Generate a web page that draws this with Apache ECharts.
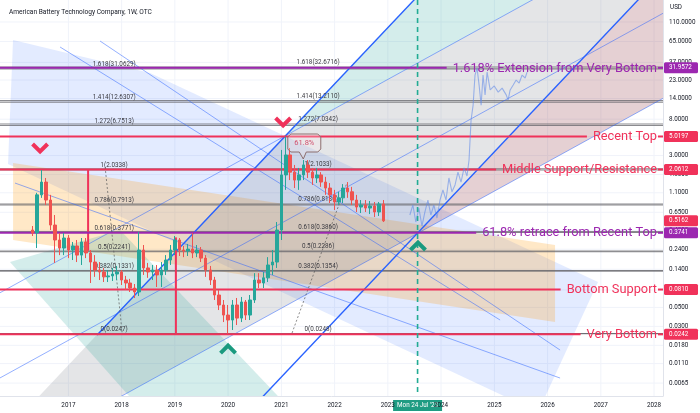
<!DOCTYPE html>
<html>
<head>
<meta charset="utf-8">
<script src="https://cdn.jsdelivr.net/npm/echarts@6/dist/echarts.min.js"></script>
<style>
html,body{margin:0;padding:0;background:#fff;}
#chart{width:700px;height:413px;}
</style>
</head>
<body>
<div id="chart"></div>
<script>
// ================= DATA =================
const chartTitle = 'American Battery Technology Company, 1W, OTC';
const currencyLabel = 'USD';

const candleMonths = ['2016-05','2016-06','2016-07','2016-08','2016-09','2016-10','2016-11','2016-12',
'2017-01','2017-02','2017-03','2017-04','2017-05','2017-06','2017-07','2017-08','2017-09','2017-10','2017-11','2017-12',
'2018-01','2018-02','2018-03','2018-04','2018-05','2018-06','2018-07','2018-08','2018-09','2018-10','2018-11','2018-12',
'2019-01','2019-02','2019-03','2019-04','2019-05','2019-06','2019-07','2019-08','2019-09','2019-10','2019-11','2019-12',
'2020-01','2020-02','2020-03','2020-04','2020-05','2020-06','2020-07','2020-08','2020-09','2020-10','2020-11','2020-12',
'2021-01','2021-02','2021-03','2021-04','2021-05','2021-06','2021-07','2021-08','2021-09','2021-10','2021-11','2021-12',
'2022-01','2022-02','2022-03','2022-04','2022-05','2022-06','2022-07','2022-08','2022-09','2022-10','2022-11','2022-12'];

// [open, close, low, high]
const ohlc = [
[0.403,0.372,0.343,0.449],[0.372,1.04,0.248,1.10],[1.04,1.47,0.959,2.03],[1.47,0.905,0.791,1.64],
[0.905,0.461,0.403,1.04],[0.461,0.308,0.166,0.604],[0.308,0.248,0.205,0.372],[0.248,0.325,0.205,0.372],
[0.325,0.235,0.189,0.352],[0.235,0.262,0.1795,0.292],[0.262,0.205,0.170,0.308],[0.205,0.292,0.157,0.325],
[0.292,0.217,0.189,0.325],[0.217,0.170,0.0966,0.235],[0.170,0.137,0.114,0.205],[0.137,0.130,0.1047,0.170],
[0.130,0.114,0.0992,0.145],[0.114,0.117,0.0992,0.137],[0.117,0.123,0.102,0.145],[0.123,0.130,0.1047,0.153],
[0.130,0.1047,0.0915,0.137],[0.1047,0.0966,0.080,0.117],[0.0966,0.0844,0.0758,0.108],[0.0844,0.0758,0.0645,0.094],
[0.0758,0.235,0.068,0.382],[0.235,0.145,0.120,0.269],[0.145,0.130,0.111,0.166],[0.130,0.137,0.1047,0.157],
[0.137,0.120,0.0867,0.157],[0.120,0.137,0.0867,0.170],[0.137,0.1795,0.120,0.205],[0.1795,0.235,0.157,0.269],
[0.235,0.308,0.205,0.343],[0.308,0.235,0.200,0.325],[0.235,0.229,0.194,0.262],[0.229,0.241,0.200,0.277],
[0.241,0.217,0.189,0.372],[0.217,0.235,0.194,0.269],[0.235,0.189,0.170,0.255],[0.189,0.137,0.114,0.205],
[0.137,0.1047,0.0915,0.153],[0.1047,0.0699,0.0611,0.114],[0.0699,0.0534,0.0466,0.080],[0.0534,0.0407,0.0337,0.0611],
[0.0407,0.0356,0.0247,0.0534],[0.0356,0.0534,0.0272,0.0611],[0.0534,0.0375,0.0311,0.0645],[0.0375,0.0579,0.0337,0.0663],
[0.0579,0.0407,0.0356,0.0611],[0.0407,0.0611,0.0356,0.0699],[0.0611,0.1047,0.0564,0.126],[0.1047,0.0966,0.0844,0.126],
[0.0966,0.111,0.0844,0.130],[0.111,0.157,0.0992,0.194],[0.157,0.170,0.120,0.235],[0.170,0.403,0.145,0.500],
[0.403,1.78,0.308,3.49],[1.78,3.05,1.19,5.0197],[3.05,1.92,1.55,3.68],[1.92,1.55,1.25,2.33],
[1.55,1.78,1.19,2.15],[1.78,2.33,1.55,2.66],[2.33,1.92,1.64,2.66],[1.92,1.64,1.36,2.15],
[1.64,1.78,1.43,2.15],[1.78,1.47,1.29,1.92],[1.47,1.25,1.04,1.69],[1.25,1.04,0.835,1.43],
[1.04,0.858,0.691,1.19],[0.858,0.959,0.791,1.13],[0.959,1.25,0.835,1.39],[1.25,1.13,0.959,1.47],
[1.13,0.905,0.791,1.29],[0.905,0.749,0.655,1.04],[0.749,0.791,0.637,0.905],[0.791,0.729,0.655,0.905],
[0.729,0.770,0.620,0.881],[0.770,0.655,0.572,0.858],[0.655,0.813,0.588,0.858],[0.813,0.5162,0.500,0.905]];

// projected path (light blue) after the marker date
const projectionDates = ['2023-06-01','2023-06-22','2023-07-12','2023-08-02','2023-08-23','2023-09-12','2023-10-03','2023-10-23','2023-11-13','2023-12-04','2023-12-25',
'2024-01-14','2024-02-04','2024-02-24','2024-03-16','2024-04-06','2024-04-26','2024-05-17','2024-06-07','2024-06-27','2024-07-11','2024-07-25','2024-08-08','2024-08-21','2024-09-04','2024-09-18','2024-10-02','2024-10-15','2024-10-29','2024-11-12','2024-12-03','2024-12-31',
'2025-01-27','2025-02-23','2025-03-23','2025-04-05','2025-04-19','2025-05-10','2025-05-30','2025-06-20','2025-07-10','2025-07-31','2025-08-13'];
const projectionPrices = [0.604,0.791,0.500,0.729,0.449,0.655,0.905,0.604,0.791,0.557,0.905,
1.19,0.905,1.64,1.13,1.36,1.92,1.47,2.15,1.73,2.66,7.83,11.7,26.3,31.8,20.1,11.7,26.3,15.4,28.5,17.6,19.6,
16.6,18.5,15.4,13.4,17.6,20.1,23.0,21.2,26.3,24.3,28.5];

// axis ticks
const yTickValues = [110,65,37,23,14,8,5,3,1.8,1.1,0.65,0.4,0.24,0.14,0.08,0.05,0.03,0.018,0.011,0.0065];
const yTickLabels = ['110.0000','65.0000','37.0000','23.0000','14.0000','8.0000','5.0000','3.0000','1.8000','1.1000','0.6500','0.4000','0.2400','0.1400','0.0800','0.0500','0.0300','0.0180','0.0110','0.0065'];
const xTickYears = [2017,2018,2019,2020,2021,2022,2023,2024,2025,2026,2027,2028];
const xTickLabels = ['2017','2018','2019','2020','2021','2022','2023','2024','2025','2026','2027','2028'];

// Fibonacci retracements
const fibRatios = ['0','0.382','0.5','0.618','0.786','1','1.272','1.414','1.618'];
const fibLeftPrices  = [0.0247,0.1331,0.2241,0.3771,0.7913,2.0338,6.7513,12.6307,31.0629];
const fibRightPrices = [0.0248,0.1354,0.2286,0.3860,0.8136,2.1033,7.0342,13.2110,32.6716];
const fibLeftLabelYear = 2017.86;
const fibRightLabelYear = 2021.69;

// annotated horizontal levels
const levelPrices = [31.9572,5.0197,2.0612,0.3741,0.0810,0.0242];
const levelTexts = ['1.618% Extension from Very Bottom','Recent Top','Middle Support/Resistance','61.8% retrace from Recent Top','Bottom Support','Very Bottom'];
const levelGroup = ['purple','red','red','purple','red','red'];

// price tags on the right scale
const tagPrices = [31.9572,5.0197,2.0612,0.5162,0.3741,0.0810,0.0242];
const tagLabels = ['31.9572','5.0197','2.0612','0.5162','0.3741','0.0810','0.0242'];
const tagGroup = ['purple','red','red','red','purple','red','red'];

// vertical marker
const markerDate = '2023-07-24';
const markerLabel = "Mon 24 Jul '23";

// drawings: [decimal year, price]
const blueZone   = [[2015.962,67.6],[2018.534,27.8],[2026.947,0.0992],[2025.821,0.00298],[2015.868,2.39]];
const orangeZone = [[2015.962,2.45],[2026.140,0.269],[2026.140,0.0337],[2015.962,0.308]];
const tealTopZone = [[2021.032,4.95],[2023.849,341],[2026.393,341]];
const greyBandZone = [[2021.032,4.95],[2026.393,341],[2028.863,341],[2028.863,24.3],[2017.182,0.0024],[2016.030,0.0024]];
const tealBottomZone = [[2015.905,0.170],[2017.971,0.403],[2021.257,0.00282],[2018.440,0.00282]];
const pinkZone   = [[2023.567,0.372],[2028.054,341],[2028.863,341],[2028.863,24.3]];

const steepUpperLine = [[2017.539,0.02375],[2023.847,341]];
const steepLowerLine = [[2020.236,0.0024],[2028.054,341]];
const bandLineA = [[2015.717,0.0743],[2026.393,341]];
const bandLineMid = [[2015.717,0.00747],[2028.863,241]];
const bandLineB = [[2017.182,0.0024],[2028.863,24.3]];
const descLine1 = [[2015.999,1.43],[2026.234,0.00745]];
const descLine2 = [[2017.595,65.8],[2026.234,0.01585]];
const descLine3 = [[2016.844,56.0],[2025.107,0.0356]];
const redVertical1 = [[2017.37,2.0338],[2017.37,0.23]];
const redVertical2 = [[2019.02,0.33],[2019.02,0.0247]];
const dottedLine1 = [[2017.69,2.20],[2018.01,0.0251]];
const dottedLine2 = [[2021.20,0.0251],[2022.23,1.43]];

const topMarkers = [[2016.469,3.68],[2021.032,7.41]];
const bottomMarkers = [[2020.0,0.01628],[2023.567,0.262]];
const calloutPoint = [2021.43,4.21];
const calloutText = '61.8%';

// ================= HELPERS =================
function yearToTime(y){ const yi=Math.floor(y); const s=Date.UTC(yi,0,1), e=Date.UTC(yi+1,0,1); return s+(y-yi)*(e-s); }
function monthToTime(s){ const [y,m]=s.split('-').map(Number); return Date.UTC(y,m-1,1); }
function dateToTime(s){ const [y,m,d]=s.split('-').map(Number); return Date.UTC(y,m-1,d); }

const X_MIN = yearToTime(2015.717), X_MAX = yearToTime(2028.168);
const Y_MIN = 0.00459, Y_MAX = 199;

const RED = '#f0325a', PURPLE = '#9c27b0', TEAL = '#22ab94';
const groupColor = {red: RED, purple: PURPLE};
const FONT = 'Roboto, "Liberation Sans", sans-serif';
const annotFont = '12.8px ' + FONT;
const smallFont = '6.3px ' + FONT;

const mctx = document.createElement('canvas').getContext('2d');
function textWidth(t, f){ mctx.font = f; return mctx.measureText(t).width; }

function pts(arr, api){ return arr.map(v => api.coord([yearToTime(v[0]), v[1]])); }

function drawingSeries(items, styles, z){
  return {
    type:'custom', coordinateSystem:'cartesian2d', clip:true, silent:true, z:z, animation:false,
    data: items.map(s => [yearToTime(s[0][0]), s[0][1]]),
    renderItem: function(params, api){
      const st = styles[params.dataIndex];
      const p = pts(items[params.dataIndex], api);
      if (st.fill) return {type:'polygon', shape:{points:p}, style:{fill:st.fill, stroke:st.stroke||null, lineWidth:st.lw||0}};
      return {type:'polyline', shape:{points:p}, style:{stroke:st.stroke, lineWidth:st.lw, lineDash:st.dash||null, fill:null}};
    }
  };
}

// ================= CHART =================
const chart = echarts.init(document.getElementById('chart'), null, {renderer:'canvas'});

const zones = [blueZone, orangeZone, greyBandZone, tealBottomZone, tealTopZone, pinkZone];
const zoneStyles = [
  {fill:'rgba(41,98,255,0.13)'},
  {fill:'rgba(255,152,0,0.22)'},
  {fill:'rgba(120,123,134,0.20)'},
  {fill:'rgba(38,166,154,0.20)'},
  {fill:'rgba(38,166,154,0.20)'},
  {fill:'rgba(242,54,69,0.12)'}
];
const lines = [steepUpperLine, steepLowerLine, bandLineA, bandLineMid, bandLineB, descLine1, descLine2, descLine3, dottedLine1, dottedLine2, redVertical1, redVertical2];
const thinBlue = {stroke:'rgba(41,98,255,0.5)', lw:1};
const lineStyles = [
  {stroke:'#2962ff', lw:1.4},
  {stroke:'#2962ff', lw:1.4},
  thinBlue, thinBlue, thinBlue, thinBlue, thinBlue, thinBlue,
  {stroke:'rgba(90,90,90,0.7)', lw:1, dash:[2,2]},
  {stroke:'rgba(90,90,90,0.7)', lw:1, dash:[2,2]},
  {stroke:RED, lw:2},
  {stroke:RED, lw:2}
];

const fibAll = fibLeftPrices.concat(fibRightPrices);

const option = {
  animation:false,
  backgroundColor:'#ffffff',
  title:{text:chartTitle, left:4, top:4, textStyle:{fontSize:6.6, fontWeight:'normal', color:'#131722', fontFamily:FONT}},
  graphic:[{type:'text', right:18, top:4, style:{text:currencyLabel, font:smallFont, fill:'#131722'}}],
  grid:{left:0, right:37, top:0, bottom:17, containLabel:false},
  xAxis:{type:'time', min:X_MIN, max:X_MAX, axisLabel:{show:false}, axisTick:{show:false}, splitLine:{show:false},
         axisLine:{show:true, lineStyle:{color:'#e0e3eb'}}},
  yAxis:{type:'log', logBase:10, min:Y_MIN, max:Y_MAX, position:'right', axisLabel:{show:false}, axisTick:{show:false},
         splitLine:{show:false}, axisLine:{show:true, lineStyle:{color:'#e0e3eb'}}},
  series:[
    {type:'custom', silent:true, z:0, clip:true,
     data: xTickYears.map(y => [Date.UTC(y,0,1), 1]),
     renderItem:(params, api) => { const cs=params.coordSys; const x=api.coord([api.value(0),1])[0];
       return {type:'line', shape:{x1:x,y1:cs.y,x2:x,y2:cs.y+cs.height}, style:{stroke:'#f0f3fa', lineWidth:1}}; }},
    {type:'custom', silent:true, z:0, clip:true,
     data: yTickValues.map(v => [X_MIN, v]),
     renderItem:(params, api) => { const cs=params.coordSys; const y=api.coord([X_MIN, api.value(1)])[1];
       return {type:'line', shape:{x1:cs.x,y1:y,x2:cs.x+cs.width,y2:y}, style:{stroke:'#f0f3fa', lineWidth:1}}; }},
    drawingSeries(zones, zoneStyles, 1),
    {type:'custom', silent:true, z:2, clip:true,
     data: fibAll.map(v => [X_MIN, v]),
     renderItem:(params, api) => { const cs=params.coordSys; const y=api.coord([X_MIN, api.value(1)])[1];
       return {type:'line', shape:{x1:cs.x,y1:y,x2:cs.x+cs.width,y2:y}, style:{stroke:'rgba(100,100,106,0.75)', lineWidth:1.1}}; }},
    drawingSeries(lines, lineStyles, 3),
    {type:'custom', silent:true, z:4, clip:true,
     data: fibLeftPrices.map((v,i)=>[yearToTime(fibLeftLabelYear), v, i]).concat(fibRightPrices.map((v,i)=>[yearToTime(fibRightLabelYear), v, i])),
     renderItem:(params, api) => { const c=api.coord([api.value(0), api.value(1)]); const i=api.value(2);
       const v = params.dataIndex < fibLeftPrices.length ? fibLeftPrices[i] : fibRightPrices[i];
       return {type:'text', style:{text: fibRatios[i] + '(' + v.toFixed(4) + ')', x:c[0], y:c[1]-1.5, align:'center', verticalAlign:'bottom', font:smallFont, fill:'#3a3a40'}}; }},
    {type:'custom', silent:true, z:5, clip:false,
     data: levelPrices.map(v => [X_MIN, v]),
     renderItem:(params, api) => { const cs=params.coordSys; const i=params.dataIndex; const y=api.coord([X_MIN, api.value(1)])[1];
       const col = groupColor[levelGroup[i]]; const right = cs.x+cs.width-6; const w = textWidth(levelTexts[i], annotFont);
       return {type:'group', children:[
         {type:'line', shape:{x1:cs.x,y1:y,x2:right-w-6,y2:y}, style:{stroke:col, lineWidth:2}},
         {type:'line', shape:{x1:right+1,y1:y,x2:cs.x+cs.width,y2:y}, style:{stroke:col, lineWidth:2}},
         {type:'text', style:{text:levelTexts[i], x:right, y:y+0.5, align:'right', verticalAlign:'middle', font:annotFont, fill:col}}
       ]}; }},
    {type:'candlestick', z:6, barWidth:3,
     data: candleMonths.map((m,i) => [monthToTime(m)].concat(ohlc[i])),
     encode:{x:0, y:[1,2,3,4]},
     itemStyle:{color:'#26a69a', color0:'#ef5350', borderColor:'#26a69a', borderColor0:'#ef5350', borderWidth:1}},
    {type:'line', z:6, showSymbol:false, silent:true,
     data: projectionDates.map((d,i) => [dateToTime(d), projectionPrices[i]]),
     lineStyle:{color:'rgba(100,140,232,0.6)', width:1.1}},
    {type:'custom', silent:true, z:7, clip:false,
     data:[[dateToTime(markerDate), Y_MIN]],
     renderItem:(params, api) => { const cs=params.coordSys; const x=api.coord([api.value(0), Y_MIN])[0];
       const w = textWidth(markerLabel, smallFont) + 8; const yb = cs.y+cs.height;
       return {type:'group', children:[
         {type:'line', shape:{x1:x,y1:cs.y,x2:x,y2:yb}, style:{stroke:TEAL, lineWidth:1.6, lineDash:[5,4]}},
         {type:'rect', shape:{x:x-w/2, y:yb+4, width:w, height:11}, style:{fill:'#1f9c83'}},
         {type:'text', style:{text:markerLabel, x:x, y:yb+9.5, align:'center', verticalAlign:'middle', font:smallFont, fill:'#ffffff'}}
       ]}; }},
    {type:'custom', silent:true, z:8, clip:true,
     data: topMarkers.map(p => [yearToTime(p[0]), p[1], 0]).concat(bottomMarkers.map(p => [yearToTime(p[0]), p[1], 1])),
     renderItem:(params, api) => { const c=api.coord([api.value(0), api.value(1)]); const up = api.value(2)===1;
       const d = up ? -1 : 1;
       return {type:'polyline', shape:{points:[[c[0]-7.5,c[1]-4*d],[c[0],c[1]+3.5*d],[c[0]+7.5,c[1]-4*d]]},
               style:{stroke: up ? '#1a9a7f' : RED, lineWidth:4, fill:null, lineJoin:'miter', lineCap:'butt'}}; }},
    {type:'custom', silent:true, z:8, clip:true,
     data:[[yearToTime(calloutPoint[0]), calloutPoint[1]]],
     renderItem:(params, api) => { const c=api.coord([api.value(0), api.value(1)]);
       const w=33, h=18, x=c[0]-w/2, y=c[1]-h/2;
       return {type:'group', children:[
         {type:'polygon', shape:{points:[[x+3,y],[x+w-3,y],[x+w,y+3],[x+w,y+h-3],[x+w-3,y+h],[x+w/2+2,y+h],[x+w/2-1,y+h+7],[x+w/2-5,y+h],[x+3,y+h],[x,y+h-3],[x,y+3]]},
          style:{fill:'rgba(255,240,240,0.25)', stroke:'#8d6e6e', lineWidth:1}},
         {type:'text', style:{text:calloutText, x:c[0], y:c[1], align:'center', verticalAlign:'middle', font:'7.5px '+FONT, fill:'#d0506e'}}
       ]}; }},
    {type:'custom', silent:true, z:9, clip:false,
     data: yTickValues.map(v => [X_MAX, v]),
     renderItem:(params, api) => { const cs=params.coordSys; const y=api.coord([X_MAX, api.value(1)])[1];
       return {type:'text', style:{text:yTickLabels[params.dataIndex], x:cs.x+cs.width+6, y:y, align:'left', verticalAlign:'middle', font:smallFont, fill:'#131722'}}; }},
    {type:'custom', silent:true, z:9, clip:false,
     data: xTickYears.map(y => [Date.UTC(y,0,1), Y_MIN]),
     renderItem:(params, api) => { const cs=params.coordSys; const x=api.coord([api.value(0), Y_MIN])[0];
       return {type:'text', style:{text:xTickLabels[params.dataIndex], x:x, y:cs.y+cs.height+9, align:'center', verticalAlign:'middle', font:smallFont, fill:'#131722'}}; }},
    {type:'custom', silent:true, z:10, clip:false,
     data: tagPrices.map(v => [X_MAX, v]),
     renderItem:(params, api) => { const cs=params.coordSys; const y=api.coord([X_MAX, api.value(1)])[1]; const i=params.dataIndex;
       const x0 = cs.x+cs.width+1;
       return {type:'group', children:[
         {type:'rect', shape:{x:x0, y:y-5.5, width:34, height:11, r:1.5}, style:{fill: groupColor[tagGroup[i]]}},
         {type:'text', style:{text:tagLabels[i], x:x0+5, y:y, align:'left', verticalAlign:'middle', font:smallFont, fill:'#ffffff'}}
       ]}; }}
  ]
};
chart.setOption(option);
</script>
</body>
</html>
